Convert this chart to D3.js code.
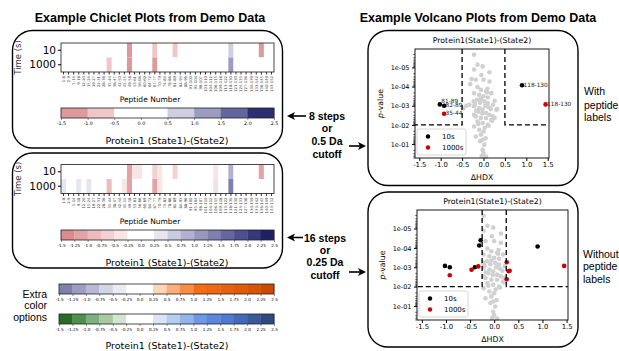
<!DOCTYPE html>
<html>
<head>
<meta charset="utf-8">
<script src="https://cdn.jsdelivr.net/npm/d3@7"></script>
<style>
  body { margin: 0; background: #fff; }
  text { font-family: "DejaVu Sans", sans-serif; }
  .head { font-family: "Liberation Sans", Arial, sans-serif; }
</style>
</head>
<body>
<svg id="fig" width="619" height="351"></svg>
<script>
// ---- chiclet data ----
const peptides = ["1-8","2-9","5-14","9-18","12-20","15-24","19-27","22-31","28-36","35-44",
  "38-47","42-50","45-55","49-58","53-61","56-66","60-69","64-72","67-77","70-79",
  "74-83","78-86","81-89","84-93","88-96","91-100","95-104","98-107","101-110","104-112",
  "106-115","109-118","113-122","118-130","121-130","124-133","127-136","130-139","133-142","136-145",
  "140-149","143-152"];
const times = ["10", "1000"];
const chiclet10 = [0,0,0,0,0,0,0,0,0,0, 0,0,0,-1.1,-0.3,-0.3,0,0,-0.7,-0.3,
  0,0,-0.6,0,0,0,0,0,0,0, -0.3,0,0,0.9,0,0,0,0,0,-1.1, 0,0];
const chiclet1000 = [0.3,0,0,0.3,0,0.3,0,0,0,-0.9, 0,0,-0.3,-1.1,0,0,0,0,-1.2,-0.3,
  0,0,0,0,0,0,0,0,0,0, 0.3,0,0,1.4,0,0,0,0,0,0, 0,0];

const ticks8 = [-1.5,-1.0,-0.5,0.0,0.5,1.0,1.5,2.0,2.5];
const ticks16 = [-1.5,-1.25,-1.0,-0.75,-0.5,-0.25,0.0,0.25,0.5,0.75,1.0,1.25,1.5,1.75,2.0,2.25,2.5];

const redBlue8 = ["#dd9a9d","#efc7c8","#ffffff","#ffffff","#cfcfe1","#9c9cc3","#63669c","#2b2f70"];
const redBlue16 = ["#db8a8e","#e3a3a6","#ebbbbd","#f2d1d2","#f8e6e6","#ffffff","#ffffff","#e6e6ef",
  "#cbcbdf","#b1b1cf","#9898bf","#8080b0","#67679f","#4e4f8d","#36387b","#1f2162"];
const purpleOrange16 = ["#8080ae","#9d9dc3","#b9b9d7","#d4d4e6","#ebebf3","#ffffff","#ffffff","#fdd6b6",
  "#fdae7c","#fb8c45","#f46d12","#ef6810","#e8610c","#e05b08","#d85306","#cc4a02"];
const greenBlue16 = ["#2a6b2a","#4f8f4f","#7faf7f","#a9c9a5","#d5e3d3","#ffffff","#ffffff","#dae5f7",
  "#b6cdf2","#94b4ec","#6f97e6","#5a86e0","#4f78d0","#4569b8","#3a5a9c","#2f4a7e"];

// ---- volcano data: [dHDX, p-value, time, peptide] ----
const volcanoSig = [
  [-1.02, 8.5e-4, 10, "81-89"], [-0.92, 1.0e-3, 10, "82-89"], [0.9, 8.5e-5, 10, "118-130"],
  [-0.40, 1.0e-3, 10, "78-86"], [-0.31, 7.5e-5, 10, "53-61"], [-0.28, 4.0e-5, 10, "56-66"],
  [-0.92, 2.6e-3, 1000, "35-44"], [1.45, 8.5e-4, 1000, "118-130"], [-0.47, 1.35e-3, 1000, "45-55"],
  [-0.33, 9.0e-4, 1000, "74-83"], [0.26, 5.5e-4, 1000, "9-18"], [0.30, 1.6e-3, 1000, "15-24"],
  [0.32, 1.5e-3, 1000, "106-115"], [0.26, 4.2e-3, 1000, "2-9"]
];
const volcanoRest = [
  [-0.22,2.2e-6],[-0.22,1.3e-5],[-0.14,7.2e-6],[-0.02,8.9e-6],[0.14,1.8e-5],[-0.18,4.4e-5],
  [0.0,4.4e-5],[0.14,5.4e-5],[-0.14,1.07e-4],[-0.06,1.48e-4],[0.06,1.78e-4],[-0.22,2.2e-4],
  [-0.10,2.7e-4],[0.0,3.2e-4],[0.10,3.7e-4],[-0.23,5.9e-4],[-0.15,4.9e-4],[-0.06,4.5e-4],
  [0.02,5.9e-4],[0.10,7.2e-4],[0.22,8.9e-4],[-0.22,1.07e-3],[-0.10,1.3e-3],[-0.02,1.6e-3],
  [0.06,2.4e-3],[0.14,2.95e-3],[0.22,3.6e-3],[-0.22,2.95e-3],[-0.18,3.6e-3],[-0.06,4.4e-3],
  [0.06,4.4e-3],[-0.14,6.6e-3],[-0.02,7.9e-3],[0.10,9.8e-3],[-0.22,1.2e-2],[-0.10,1.8e-2],
  [0.0,2.2e-2],[-0.06,3.2e-2],[-0.18,4.0e-2],[-0.02,5.9e-2],[0.02,1.07e-1],[-0.02,2.0e-1],
  [0.0,2.95e-1],[-0.04,4.1e-1],[0.06,4.4e-1],[0.04,1.0e-3],[0.12,1.2e-3],[-0.08,7.0e-4],
  [0.17,1.5e-3],[-0.17,1.8e-3],[0.08,2.0e-4],[-0.03,2.5e-3],[0.18,5.5e-3],[-0.12,9.0e-3],
  [0.03,1.4e-2],[-0.08,7.0e-2],[0.05,5.0e-2],[0.12,1.1e-2],[0.20,6.0e-3],[-0.20,8.0e-4],
  [0.18,2.2e-4],[-0.05,2.5e-5],[0.09,1.3e-4],[-0.12,2.0e-3]
];
const volcanoXTicks = [-1.5,-1.0,-0.5,0.0,0.5,1.0,1.5];
const volcanoYTicks = [1e-5,1e-4,1e-3,1e-2,1e-1];
const pCutoff = 0.01;

const svg = d3.select("#fig");

// rounded frames
[[12.5,30.5,270,117.5],[12.5,153,270,115],[368,30.5,210,155],[368,192,210,155]].forEach(f => {
  svg.append("rect").attr("x",f[0]).attr("y",f[1]).attr("width",f[2]).attr("height",f[3])
    .attr("rx",20).attr("fill","none").attr("stroke","#000").attr("stroke-width",1.4);
});

svg.append("text").attr("class","head").attr("x",150).attr("y",22).attr("text-anchor","middle")
  .attr("font-size",12.5).attr("font-weight","bold").text("Example Chiclet Plots from Demo Data");
svg.append("text").attr("class","head").attr("x",478).attr("y",22).attr("text-anchor","middle")
  .attr("font-size",12.5).attr("font-weight","bold").text("Example Volcano Plots from Demo Data");

function binColor(edges, colors, v) {
  let i = d3.bisectRight(edges, v) - 1;
  i = Math.max(0, Math.min(colors.length - 1, i));
  return colors[i];
}

function colorbar(x0, x1, y0, h, edges, colors, labels) {
  const x = d3.scaleLinear().domain([edges[0], edges[edges.length-1]]).range([x0, x1]);
  const g = svg.append("g");
  g.selectAll("rect.bin").data(colors).enter().append("rect")
    .attr("x", (d,i) => x(edges[i])).attr("y", y0)
    .attr("width", (d,i) => x(edges[i+1]) - x(edges[i]) + 0.3).attr("height", h)
    .attr("fill", d => d);
  g.append("rect").attr("x",x0).attr("y",y0).attr("width",x1-x0).attr("height",h)
    .attr("fill","none").attr("stroke","#222").attr("stroke-width",0.8);
  const ax = g.append("g").attr("transform",`translate(0,${y0+h})`)
    .call(d3.axisBottom(x).tickValues(edges).tickFormat((d,i) => labels[i]).tickSize(2).tickPadding(2));
  ax.select(".domain").remove();
  ax.selectAll("line").attr("stroke","#222").attr("stroke-width",0.5);
  ax.selectAll("text").attr("font-size", labels.length > 10 ? 4.2 : 4.8).attr("font-family","DejaVu Sans");
}

function chiclet(top, cbTop, edges, colors, labels) {
  const x = d3.scaleBand().domain(peptides).range([61, 274]);
  const y = d3.scaleBand().domain(times).range([top, top + 29]);
  const g = svg.append("g");
  const rows = [chiclet10, chiclet1000];
  times.forEach((t, r) => {
    g.selectAll(null).data(peptides).enter().append("rect")
      .attr("x", d => x(d)).attr("y", y(t))
      .attr("width", x.bandwidth() + 0.2).attr("height", y.bandwidth())
      .attr("fill", (d, i) => binColor(edges, colors, rows[r][i]));
  });
  g.append("rect").attr("x",61).attr("y",top).attr("width",213).attr("height",29)
    .attr("fill","none").attr("stroke","#333").attr("stroke-width",0.9);
  const ya = g.append("g").attr("transform","translate(61,0)").call(d3.axisLeft(y).tickSize(3).tickPadding(2));
  ya.select(".domain").remove();
  ya.selectAll("text").attr("font-size",10.5).attr("font-family","DejaVu Sans");
  const xa = g.append("g").attr("transform",`translate(0,${top+29})`).call(d3.axisBottom(x).tickSize(2.5));
  xa.select(".domain").remove();
  xa.selectAll("line").attr("stroke-width",0.8);
  xa.selectAll("text").attr("font-size",3.8).attr("font-family","DejaVu Sans").attr("fill","#444")
    .attr("text-anchor","end").attr("dy","0.35em")
    .attr("transform","translate(0,4) rotate(-90)").attr("x",0).attr("y",0);
  g.append("text").attr("x",150).attr("y",top+59).attr("text-anchor","middle")
    .attr("font-size",7.5).text("Peptide Number");
  g.append("text").attr("transform",`translate(21,${top+14.5}) rotate(-90)`).attr("text-anchor","middle")
    .attr("font-size",8.5).attr("fill","#333").text("Time (s)");
  colorbar(61, 274, cbTop, 10, edges, colors, labels);
  g.append("text").attr("x",167).attr("y",cbTop+36).attr("text-anchor","middle")
    .attr("font-size",9.5).text("Protein1 (State1)-(State2)");
}

const labels8 = ticks8.map(d => d.toFixed(1));
const labels16 = ticks16.map(d => (Math.abs(d*4) % 2 === 1 ? d.toFixed(2) : d.toFixed(1)));

chiclet(43, 108, ticks8, redBlue8, labels8);
chiclet(164.5, 230, ticks16, redBlue16, labels16);

colorbar(59, 274, 284, 10, ticks16, purpleOrange16, labels16);
colorbar(59, 274, 314, 10, ticks16, greenBlue16, labels16);
svg.append("text").attr("x",167).attr("y",349).attr("text-anchor","middle")
  .attr("font-size",9.5).text("Protein1 (State1)-(State2)");
["Extra","color","options"].forEach((t,i) => {
  svg.append("text").attr("class","head").attr("x",47).attr("y",[297.5,308.5,321][i])
    .attr("text-anchor","end").attr("font-size",10.5).text(t);
});

// ---- volcano ----
function volcano(left, right, top, bottom, cutoff, showLabels) {
  const x = d3.scaleLinear().domain([-1.6, 1.53]).range([left, right]);
  const y = d3.scaleLog().domain([1.1e-6, 0.53]).range([top, bottom]);
  const g = svg.append("g");
  const clipId = "clip" + Math.round(top);
  g.append("clipPath").attr("id", clipId).append("rect")
    .attr("x",left).attr("y",top).attr("width",right-left).attr("height",bottom-top);
  const pts = volcanoRest.map(d => ({x:d[0], p:d[1], c:"#d0d0d0"}))
    .concat(volcanoSig.map(d => ({x:d[0], p:d[1], lab:d[3],
      sig: Math.abs(d[0]) > cutoff && d[1] < pCutoff,
      c: Math.abs(d[0]) > cutoff && d[1] < pCutoff ? (d[2] === 10 ? "#000" : "#cc0000") : "#d0d0d0"})));
  pts.sort((a,b) => (a.c === "#d0d0d0" ? 0 : 1) - (b.c === "#d0d0d0" ? 0 : 1));
  g.selectAll(null).data(pts).enter().append("circle")
    .attr("cx", d => x(d.x)).attr("cy", d => y(d.p)).attr("r", 2.3).attr("fill", d => d.c);
  // cutoff lines
  const dash = g.append("g").attr("clip-path",`url(#${clipId})`).attr("fill","none")
    .attr("stroke","#000").attr("stroke-width",1.3).attr("stroke-dasharray","5,3");
  const yc = y(pCutoff);
  dash.append("path").attr("d", `M${x(-cutoff)},${top} V${yc} H${left}`);
  dash.append("path").attr("d", `M${x(cutoff)},${top} V${yc} H${right}`);
  if (showLabels) {
    g.selectAll(null).data(pts.filter(d => d.sig)).enter().append("text")
      .attr("x", d => x(d.x) + 1.5).attr("y", d => y(d.p) - (d.x < -0.95 ? 1.5 : -1.5))
      .attr("font-size", 5.8).attr("fill","#222").text(d => d.lab);
  }
  g.append("rect").attr("x",left).attr("y",top).attr("width",right-left).attr("height",bottom-top)
    .attr("fill","none").attr("stroke","#000").attr("stroke-width",0.9);
  const xa = g.append("g").attr("transform",`translate(0,${bottom})`)
    .call(d3.axisBottom(x).tickValues(volcanoXTicks).tickFormat(d3.format(".1f")).tickSize(3).tickPadding(1.5));
  xa.select(".domain").remove();
  xa.selectAll("text").attr("font-size",6.8).attr("font-family","DejaVu Sans")
    .text(d => d3.format(".1f")(d).replace("−","-"));
  const minor = [];
  for (let e = -6; e <= -1; e++) for (let m = 2; m <= 9; m++) {
    const v = m * Math.pow(10, e);
    if (v > 1.1e-6 && v < 0.53) minor.push(v);
  }
  const ym = g.append("g").attr("transform",`translate(${left},0)`)
    .call(d3.axisLeft(y).tickValues(minor).tickFormat("").tickSize(1.8));
  ym.select(".domain").remove();
  ym.selectAll("line").attr("stroke-width",0.6);
  const ya = g.append("g").attr("transform",`translate(${left},0)`)
    .call(d3.axisLeft(y).tickValues(volcanoYTicks).tickFormat(d => "1e-0" + Math.round(-Math.log10(d))).tickSize(3).tickPadding(2.5));
  ya.select(".domain").remove();
  ya.selectAll("text").attr("font-size",6.5).attr("font-family","DejaVu Sans");
  const cx = (left + right) / 2;
  g.append("text").attr("x",cx).attr("y",top-6).attr("text-anchor","middle")
    .attr("font-size",7.8).text("Protein1(State1)-(State2)");
  g.append("text").attr("x",cx).attr("y",bottom+22).attr("text-anchor","middle")
    .attr("font-size",7.8).text("ΔHDX");
  const pl = g.append("text").attr("transform",`translate(${left-32},${(top+bottom)/2}) rotate(-90)`)
    .attr("text-anchor","middle").attr("font-size",7.8);
  pl.append("tspan").attr("font-style","italic").text("p");
  pl.append("tspan").text("-value");
  // legend
  const lg = g.append("g").attr("transform",`translate(${left+2},${bottom-29})`);
  lg.append("rect").attr("width",49).attr("height",26).attr("rx",2)
    .attr("fill","#fff").attr("fill-opacity",0.85).attr("stroke","#ccc").attr("stroke-width",0.8);
  [["10s","#000"],["1000s","#cc0000"]].forEach((d,i) => {
    lg.append("circle").attr("cx",11).attr("cy",7.5+i*11).attr("r",2.2).attr("fill",d[1]);
    lg.append("text").attr("x",25).attr("y",10+i*11).attr("font-size",7).text(d[0]);
  });
}

volcano(415, 549, 49, 158, 0.5, true);
volcano(417, 568, 210, 320, 0.25, false);

// ---- annotations ----
function arrow(x1, y, x2) {
  const dir = Math.sign(x2 - x1);
  svg.append("line").attr("x1",x1).attr("y1",y).attr("x2",x2 - dir*5).attr("y2",y)
    .attr("stroke","#000").attr("stroke-width",1.6);
  svg.append("path").attr("d",`M${x2},${y} L${x2-dir*8},${y-4} L${x2-dir*6},${y} L${x2-dir*8},${y+4} Z`)
    .attr("fill","#000");
}
arrow(306, 116, 287);
arrow(349, 146, 366);
arrow(303, 237.5, 287);
arrow(349, 272, 366);

function block(lines, cx, ys, bold, anchor) {
  lines.forEach((t,i) => svg.append("text").attr("class","head").attr("x",cx).attr("y",ys[i])
    .attr("text-anchor",anchor).attr("font-size",10.5).attr("font-weight",bold ? "bold" : "normal").text(t));
}
block(["8 steps","or","0.5 Da","cutoff"], 327, [120,132,145,158], true, "middle");
block(["16 steps","or","0.25 Da","cutoff"], 325, [241.5,254,266,279], true, "middle");
block(["With","peptide","labels"], 584, [95,109,121], false, "start");
block(["Without","peptide","labels"], 583, [257.5,270,283], false, "start");
</script>
</body>
</html>
